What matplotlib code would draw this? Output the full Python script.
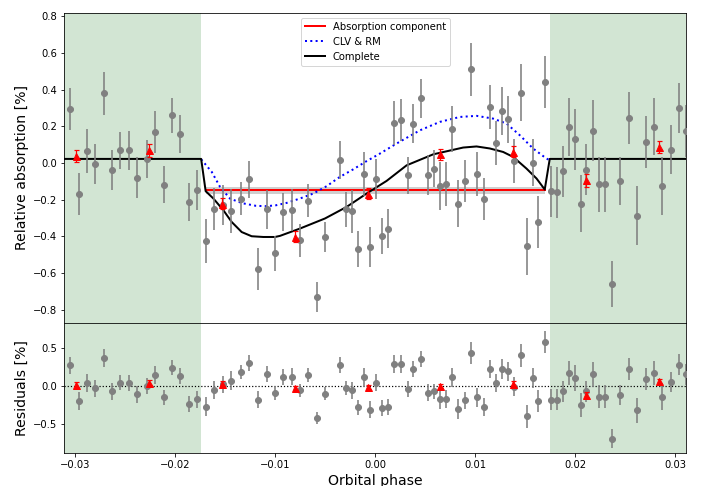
import matplotlib
matplotlib.use("Agg")
import matplotlib.pyplot as plt
import numpy as np

# ---- data ----
phase = [-0.03055, -0.02965, -0.02882, -0.02799, -0.02715, -0.02632, -0.02549, -0.02466,
         -0.02383, -0.02283, -0.02200, -0.02116, -0.02033, -0.01950, -0.01866, -0.01783,
         -0.01693, -0.01610, -0.01526, -0.01444, -0.01344, -0.01261, -0.01171, -0.01087,
         -0.01004, -0.00921, -0.00837, -0.00754, -0.00671, -0.00587, -0.00504, -0.00355,
         -0.00295, -0.00235, -0.00175, -0.00112, -0.00055, 0.00005, 0.00065, 0.00128,
         0.00188, 0.00252, 0.00325, 0.00378, 0.00455, 0.00521, 0.00584, 0.00644,
         0.00704, 0.00764, 0.00824, 0.00891, 0.00954, 0.01017, 0.01084, 0.01144,
         0.01207, 0.01267, 0.01327, 0.01387, 0.01451, 0.01511, 0.01571, 0.01630,
         0.01693, 0.01753, 0.01813, 0.01873, 0.01933, 0.01993, 0.02053, 0.02110,
         0.02173, 0.02233, 0.02293, 0.02370, 0.02450, 0.02532, 0.02619, 0.02702,
         0.02785, 0.02869, 0.02952, 0.03032, 0.03109]

absorption = [0.295, -0.171, 0.065, -0.007, 0.379, -0.038, 0.069, 0.069,
              -0.080, 0.022, 0.169, -0.118, 0.259, 0.157, -0.214, -0.149,
              -0.427, -0.251, -0.231, -0.262, -0.196, -0.089, -0.579, -0.254,
              -0.493, -0.267, -0.258, -0.422, -0.205, -0.729, -0.402, 0.015,
              -0.254, -0.264, -0.469, -0.058, -0.460, -0.087, -0.398, -0.358,
              0.217, 0.233, -0.067, 0.215, 0.353, -0.067, -0.031, -0.125,
              -0.115, 0.184, -0.222, -0.100, 0.511, -0.062, -0.198, 0.304,
              0.109, 0.282, 0.238, 0.008, 0.384, -0.455, 0.002, -0.322,
              0.442, -0.154, -0.160, -0.045, 0.197, 0.128, -0.222, -0.036,
              0.177, -0.115, -0.115, -0.660, -0.100, 0.246, -0.287, 0.115,
              0.197, -0.125, 0.073, 0.302, 0.175]

absorption_err = [0.114, 0.115, 0.118, 0.110, 0.118, 0.110, 0.100, 0.105,
                  0.110, 0.105, 0.116, 0.100, 0.094, 0.104, 0.105, 0.110,
                  0.120, 0.116, 0.110, 0.120, 0.090, 0.100, 0.114, 0.105,
                  0.094, 0.105, 0.114, 0.090, 0.090, 0.082, 0.082, 0.105,
                  0.095, 0.116, 0.100, 0.120, 0.110, 0.110, 0.100, 0.104,
                  0.120, 0.115, 0.100, 0.105, 0.105, 0.110, 0.100, 0.130,
                  0.120, 0.125, 0.127, 0.115, 0.143, 0.120, 0.116, 0.120,
                  0.120, 0.130, 0.127, 0.120, 0.155, 0.155, 0.130, 0.140,
                  0.144, 0.140, 0.138, 0.140, 0.160, 0.168, 0.155, 0.140,
                  0.165, 0.150, 0.150, 0.125, 0.130, 0.140, 0.160, 0.140,
                  0.155, 0.160, 0.135, 0.137, 0.140]

residuals = [0.27, -0.20, 0.04, -0.03, 0.36, -0.07, 0.04, 0.04,
             -0.11, 0.00, 0.14, -0.15, 0.24, 0.13, -0.24, -0.175,
             -0.27, -0.05, 0.02, 0.07, 0.18, 0.30, -0.18, 0.15,
             -0.09, 0.12, 0.12, -0.06, 0.14, -0.42, -0.10, 0.27,
             -0.03, -0.06, -0.28, 0.11, -0.31, 0.04, -0.29, -0.28,
             0.29, 0.29, -0.04, 0.22, 0.35, -0.09, -0.07, -0.17,
             -0.17, 0.11, -0.30, -0.19, 0.43, -0.15, -0.28, 0.22,
             0.04, 0.22, 0.19, -0.01, 0.40, -0.40, 0.10, -0.20,
             0.58, -0.18, -0.18, -0.07, 0.17, 0.10, -0.25, -0.07,
             0.15, -0.14, -0.14, -0.69, -0.12, 0.22, -0.32, 0.09,
             0.17, -0.15, 0.05, 0.28, 0.15]

bin_phase = [-0.02998, -0.02266, -0.01536, -0.00804, -0.00078, 0.00647, 0.01377, 0.02110, 0.02835]
bin_absorption = [0.038, 0.069, -0.222, -0.404, -0.167, 0.047, 0.062, -0.094, 0.087]
bin_err = [0.035, 0.034, 0.030, 0.030, 0.028, 0.030, 0.032, 0.035, 0.034]
bin_residuals = [0.01, 0.04, 0.03, -0.03, -0.02, 0.00, 0.03, -0.12, 0.06]

complete_phase = [-0.0311, -0.01742, -0.01697, -0.01620, -0.01520, -0.01437, -0.01337,
                  -0.01237, -0.01121, -0.01004, -0.00954, -0.00754, -0.00504, -0.00288,
                  -0.00088, 0.00112, 0.00312, 0.00578, 0.00877, 0.01011, 0.01144,
                  0.01277, 0.01377, 0.01511, 0.01611, 0.01693, 0.01743, 0.0311]
complete_model = [0.022, 0.022, -0.154, -0.194, -0.258, -0.322, -0.377,
                  -0.400, -0.404, -0.404, -0.398, -0.358, -0.303, -0.240,
                  -0.167, -0.098, -0.013, 0.047, 0.084, 0.090, 0.079,
                  0.060, 0.033, -0.031, -0.085, -0.145, 0.022, 0.022]

clv_phase = [-0.01742, -0.01636, -0.01553, -0.01453, -0.01328, -0.01194, -0.01087,
             -0.00994, -0.00887, -0.00754, -0.00621, -0.00488, -0.00355, -0.00222,
             -0.00088, 0.00045, 0.00212, 0.00445, 0.00644, 0.00844, 0.01011,
             0.01177, 0.01311, 0.01444, 0.01576, 0.01710, 0.01743]
clv_model = [0.020, -0.049, -0.131, -0.195, -0.220, -0.234, -0.236,
             -0.231, -0.218, -0.194, -0.167, -0.127, -0.076, -0.035,
             0.010, 0.051, 0.106, 0.178, 0.224, 0.251, 0.257,
             0.242, 0.215, 0.151, 0.079, 0.024, 0.015]

absorption_phase = [-0.01697, 0.01693]
absorption_level = [-0.150, -0.150]
absorption_unc = 0.020

transit_edges = [-0.01742, 0.01743]
xlim = (-0.0311, 0.0311)
ylim = (-0.875, 0.82)

# ---- figure ----
DPI = 72
fig = plt.figure(figsize=(703 / DPI, 486 / DPI), dpi=DPI)
ax1 = fig.add_axes([0.0915, 0.3348, 0.8850, 0.6391])
ax2 = fig.add_axes([0.0915, 0.0685, 0.8850, 0.2663], sharex=ax1)

shade = "#d2e5d3"
for ax in (ax1, ax2):
    ax.axvspan(xlim[0], transit_edges[0], color=shade, lw=0, zorder=0)
    ax.axvspan(transit_edges[1], xlim[1], color=shade, lw=0, zorder=0)

# top panel
ab_lo = [v - absorption_unc for v in absorption_level]
ab_hi = [v + absorption_unc for v in absorption_level]
ax1.fill_between(absorption_phase, ab_lo, ab_hi, color="#cfcfcf", lw=0, zorder=1)
ax1.plot(absorption_phase, absorption_level, color="red", lw=2, zorder=2,
         label="Absorption component")
ax1.plot(clv_phase, clv_model, color="blue", ls=":", lw=2, zorder=2, label="CLV & RM")
ax1.plot(complete_phase, complete_model, color="black", lw=2, zorder=2, label="Complete")

ax1.errorbar(phase, absorption, yerr=absorption_err, fmt="o", color="gray",
             ms=6, elinewidth=1.6, capsize=0, zorder=3)
ax1.errorbar(bin_phase, bin_absorption, yerr=bin_err, fmt="^", color="red",
             ms=7, elinewidth=1.2, capsize=2.5, capthick=1.2, zorder=4)

ax1.set_xlim(*xlim)
ax1.set_ylim(*ylim)
ax1.set_ylabel("Relative absorption [%]", fontsize=14)
ax1.set_yticks([-0.8, -0.6, -0.4, -0.2, 0.0, 0.2, 0.4, 0.6, 0.8])
ax1.tick_params(labelbottom=False)
ax1.legend(loc="upper center", fontsize=10, framealpha=0.8)

# residual panel
ax2.axhline(0, color="black", ls=":", lw=1.2, zorder=1)
ax2.errorbar(phase, residuals, yerr=absorption_err, fmt="o", color="gray",
             ms=6, elinewidth=1.6, capsize=0, zorder=3)
ax2.errorbar(bin_phase, bin_residuals, yerr=bin_err, fmt="^", color="red",
             ms=7, elinewidth=1.2, capsize=2.5, capthick=1.2, zorder=4)
ax2.set_ylim(*ylim)
ax2.set_yticks([-0.5, 0.0, 0.5])
ax2.set_xticks([-0.03, -0.02, -0.01, 0.0, 0.01, 0.02, 0.03])
ax2.set_ylabel("Residuals [%]", fontsize=14)
ax2.set_xlabel("Orbital phase", fontsize=14)

fig.savefig("out.png", dpi=DPI)
